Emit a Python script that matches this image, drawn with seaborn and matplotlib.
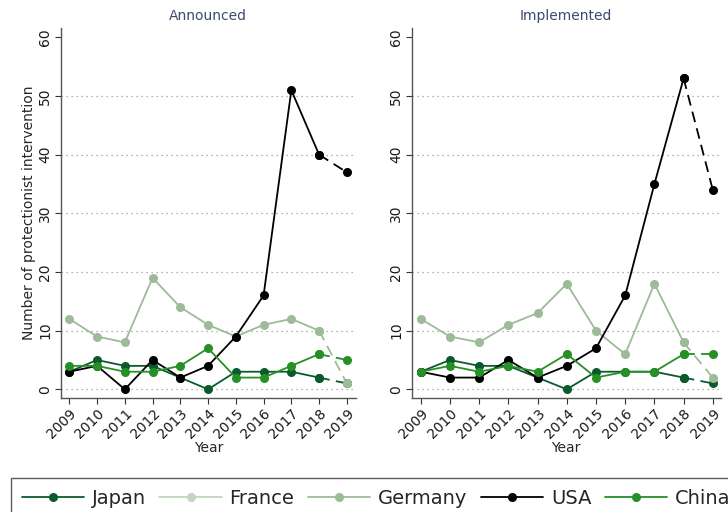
"""
Protectionist interventions announced vs implemented, 2009-2019, by country.
"""

import numpy as np
import pandas as pd
import matplotlib
matplotlib.use("Agg")
import matplotlib.pyplot as plt
from matplotlib.lines import Line2D
import seaborn as sns

years = list(range(2009, 2020))
countries = ["Japan", "France", "Germany", "USA", "China"]
panels = ["Announced", "Implemented"]

# announced
ann_japan = [3, 5, 4, 4, 2, 0, 3, 3, 3, 2, 1]
ann_france = [np.nan] * 11
ann_germany = [12, 9, 8, 19, 14, 11, 9, 11, 12, 10, 1]
ann_usa = [3, 4, 0, 5, 2, 4, 9, 16, 51, 40, 37]
ann_china = [4, 4, 3, 3, 4, 7, 2, 2, 4, 6, 5]

# implemented
imp_japan = [3, 5, 4, 4, 2, 0, 3, 3, 3, 2, 1]
imp_france = [np.nan] * 11
imp_germany = [12, 9, 8, 11, 13, 18, 10, 6, 18, 8, 2]
imp_usa = [3, 2, 2, 5, 2, 4, 7, 16, 35, 53, 34]
imp_china = [3, 4, 3, 4, 3, 6, 2, 3, 3, 6, 6]

colors = {
    "Japan": "#0b5a2c",
    "France": "#c3d7c0",
    "Germany": "#9dba99",
    "USA": "#000000",
    "China": "#259025",
}

rows = []
for panel, series in [("Announced", [ann_japan, ann_france, ann_germany, ann_usa, ann_china]),
                      ("Implemented", [imp_japan, imp_france, imp_germany, imp_usa, imp_china])]:
    for c, vals in zip(countries, series):
        for y, v in zip(years, vals):
            rows.append({"panel": panel, "country": c, "Year": y, "value": v})
df = pd.DataFrame(rows)

sns.set_style("white")
plt.rcParams["font.family"] = ["DejaVu Sans"]

fig = plt.figure(figsize=(7.28, 5.12), dpi=100)
ax_l = fig.add_axes([60.7 / 728, 1 - 398 / 512, 295.3 / 728, 370 / 512])
ax_r = fig.add_axes([411.7 / 728, 1 - 398 / 512, 309 / 728, 370 / 512])

for ax, panel in zip([ax_l, ax_r], panels):
    sub = df[df["panel"] == panel]
    for c in countries:
        d = sub[sub["country"] == c].dropna()
        if d.empty:
            continue
        solid = d[d["Year"] <= 2018]
        dashed = d[d["Year"] >= 2018]
        sns.lineplot(data=solid, x="Year", y="value", ax=ax, color=colors[c],
                     marker="o", markersize=6.5, markeredgewidth=0, linewidth=1.3)
        sns.lineplot(data=dashed, x="Year", y="value", ax=ax, color=colors[c],
                     marker="o", markersize=6.5, markeredgewidth=0, linewidth=1.3,
                     dashes=False, linestyle=(0, (6, 3.5)))
    ax.set_ylim(-1.48, 61.6)
    ax.set_yticks([0, 10, 20, 30, 40, 50, 60])
    ax.set_xticks(years)
    ax.set_xticklabels([str(y) for y in years], rotation=45, ha="right",
                       rotation_mode="anchor", fontsize=10)
    for lbl in ax.get_yticklabels():
        lbl.set_rotation(90)
        lbl.set_va("center")
        lbl.set_fontsize(10)
    ax.tick_params(axis="both", length=4, width=0.8, color="#333333", labelcolor="#1a1a1a",
                   pad=2, left=True, bottom=True)
    for y in [0, 10, 20, 30, 40, 50]:
        ax.axhline(y, color="#999999", linestyle=(0, (1, 3)), linewidth=0.9, zorder=0)
    sns.despine(ax=ax)
    for s in ["left", "bottom"]:
        ax.spines[s].set_color("#555555")
        ax.spines[s].set_linewidth(1.0)
    ax.set_xlabel("Year", fontsize=10, labelpad=0)
    ax.set_ylabel("")
    ax.set_title(panel, fontsize=10, color="#3b4a6e", pad=6)

ax_l.set_xlim(2008.69, 2019.33)
ax_r.set_xlim(2008.69, 2019.27)
ax_l.set_ylabel("Number of protectionist intervention", fontsize=10, labelpad=2)

handles = [Line2D([0], [0], color=colors[c], marker="o", markersize=6.5,
                  markeredgewidth=0, linewidth=1.3) for c in countries]
fig.legend(handles, countries, loc="upper left", bbox_to_anchor=(11 / 728, 1 - 478 / 512),
           ncol=5, fontsize=14, frameon=True, fancybox=False, edgecolor="#333333",
           handlelength=3.2, handletextpad=0.4, columnspacing=0.7, borderpad=0.55,
           borderaxespad=0)

fig.savefig("out.png", dpi=100)
